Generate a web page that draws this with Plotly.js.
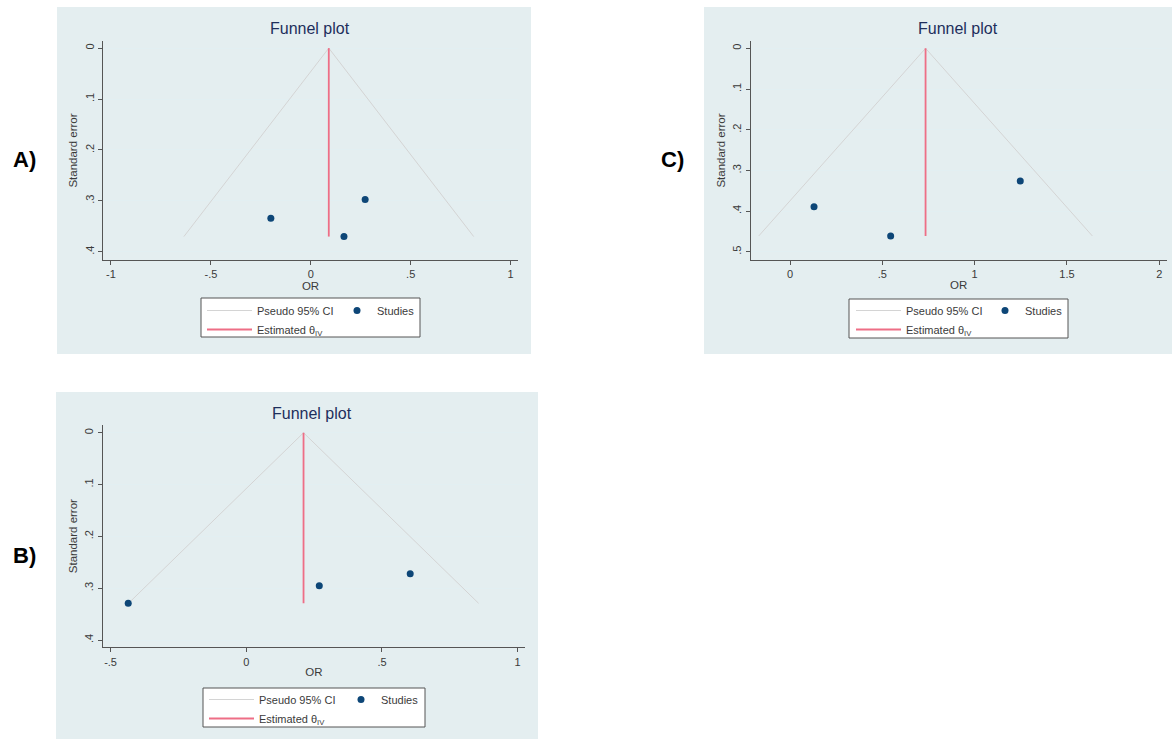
<!DOCTYPE html>
<html>
<head>
<meta charset="utf-8">
<script src="https://cdn.plot.ly/plotly-3.0.1.min.js"></script>
<style>html,body{margin:0;padding:0;background:#fff;}#chart{width:1173px;height:742px;}</style>
</head>
<body>
<div id="chart"></div>
<script>
// ---- Data ----
// Panel A
const orA = [-0.200, 0.272, 0.166];
const seA = [0.334, 0.297, 0.370];
const thetaA = 0.090;
const xTicksA = [-1, -0.5, 0, 0.5, 1];
const xLabelsA = ['-1', '-.5', '0', '.5', '1'];
const yTicksA = [0, 0.1, 0.2, 0.3, 0.4];
const yLabelsA = ['0', '.1', '.2', '.3', '.4'];
// Panel B
const orB = [-0.435, 0.269, 0.604];
const seB = [0.329, 0.295, 0.272];
const thetaB = 0.211;
const xTicksB = [-0.5, 0, 0.5, 1];
const xLabelsB = ['-.5', '0', '.5', '1'];
const yTicksB = [0, 0.1, 0.2, 0.3, 0.4];
const yLabelsB = ['0', '.1', '.2', '.3', '.4'];
// Panel C
const orC = [0.130, 0.545, 1.247];
const seC = [0.389, 0.461, 0.326];
const thetaC = 0.734;
const xTicksC = [0, 0.5, 1, 1.5, 2];
const xLabelsC = ['0', '.5', '1', '1.5', '2'];
const yTicksC = [0, 0.1, 0.2, 0.3, 0.4, 0.5];
const yLabelsC = ['0', '.1', '.2', '.3', '.4', '.5'];

const panelLabels = ['A)', 'B)', 'C)'];
const titleText = 'Funnel plot';
const seriesNames = ['Pseudo 95% CI', 'Studies', 'Estimated θ<sub>IV</sub>'];
const xTitle = 'OR';
const yTitle = 'Standard error';

// ---- Styling ----
const W = 1173, H = 742;
const BG = '#e4eef0';
const GRID = '#e2eff2';
const AX = '#555555';
const CI_COL = '#d4d4d4';
const PT_COL = '#0d4677';
const EST_COL = '#ee6e86';
const TITLE_COL = '#1e2f5c';
const FONT = 'Liberation Sans, Arial, sans-serif';

const px = v => v / W;
const py = v => 1 - v / H;

function panelTraces(or, se, theta, xa, ya, legMain, legPts) {
  const seMax = Math.max(...se);
  const z = 1.96;
  return [
    { type: 'scatter', mode: 'lines', x: [theta - z * seMax, theta, theta + z * seMax], y: [seMax, 0, seMax],
      line: { color: CI_COL, width: 1 }, name: seriesNames[0], xaxis: xa, yaxis: ya, legend: legMain,
      hoverinfo: 'skip' },
    { type: 'scatter', mode: 'markers', x: or, y: se, marker: { color: PT_COL, size: 7 },
      name: seriesNames[1], xaxis: xa, yaxis: ya, legend: legPts },
    { type: 'scatter', mode: 'lines', x: [theta, theta], y: [0, seMax],
      line: { color: EST_COL, width: 1.8 }, name: seriesNames[2], xaxis: xa, yaxis: ya, legend: legMain,
      hoverinfo: 'skip' }
  ];
}

const data = [
  ...panelTraces(orA, seA, thetaA, 'x', 'y', 'legend', 'legend4'),
  ...panelTraces(orB, seB, thetaB, 'x2', 'y2', 'legend2', 'legend5'),
  ...panelTraces(orC, seC, thetaC, 'x3', 'y3', 'legend3', 'legend6')
];

function xAxis(dom, range, tv, tt, anchor) {
  return { domain: dom, range: range, anchor: anchor, tickvals: tv, ticktext: tt,
    showline: true, linecolor: AX, linewidth: 1, ticks: 'outside', ticklen: 4, tickcolor: AX,
    showgrid: false, zeroline: false, tickfont: { size: 11, color: '#3a3a3a', family: FONT },
    title: { text: xTitle, font: { size: 11.5, color: '#3a3a3a', family: FONT }, standoff: 1 } };
}
function yAxis(dom, range, tv, tt, anchor) {
  return { domain: dom, range: range, anchor: anchor, tickvals: tv, ticktext: tt, tickangle: -90,
    showline: true, linecolor: AX, linewidth: 1, ticks: 'outside', ticklen: 4, tickcolor: AX,
    showgrid: true, gridcolor: GRID, gridwidth: 1, zeroline: false,
    tickfont: { size: 11, color: '#3a3a3a', family: FONT },
    title: { text: yTitle, font: { size: 11.5, color: '#3a3a3a', family: FONT }, standoff: 3 } };
}

function legendCfg(xl, ytop, iw) {
  return { x: px(xl), y: py(ytop), xref: 'paper', yref: 'paper', xanchor: 'left', yanchor: 'top',
    orientation: 'v', bgcolor: 'rgba(0,0,0,0)', borderwidth: 0,
    font: { size: 11, color: '#3a3a3a', family: FONT }, itemwidth: iw };
}

// panel boxes in pixels [x0, y0, x1, y1]
const boxA = [57, 7, 531, 354];
const boxB = [56, 392, 538, 739];
const boxC = [704, 7, 1172, 354];
// legend frames in pixels [x0, y0, x1, y1]
const legBoxA = [201, 298, 420, 337];
const legBoxB = [203, 688, 425, 727];
const legBoxC = [849, 299, 1068, 338];

function bgShape(b) {
  return { type: 'rect', xref: 'paper', yref: 'paper', x0: px(b[0]), x1: px(b[2]), y0: py(b[3]), y1: py(b[1]),
    fillcolor: BG, line: { width: 0 }, layer: 'below' };
}
function legFrame(b) {
  return { type: 'rect', xref: 'paper', yref: 'paper', x0: px(b[0]), x1: px(b[2]), y0: py(b[3]), y1: py(b[1]),
    fillcolor: '#ffffff', line: { width: 1, color: '#555555' }, layer: 'below' };
}

function ann(text, xp, yp, size, color, bold) {
  return { text: bold ? '<b>' + text + '</b>' : text, x: px(xp), y: py(yp), xref: 'paper', yref: 'paper',
    showarrow: false, xanchor: 'center', yanchor: 'middle',
    font: { size: size, color: color, family: FONT } };
}

const layout = {
  width: W, height: H, margin: { l: 0, r: 0, t: 0, b: 0 },
  paper_bgcolor: '#ffffff', plot_bgcolor: '#ffffff',
  font: { family: FONT },
  xaxis: xAxis([px(103), px(518)], [-1.04, 1.037], xTicksA, xLabelsA, 'y'),
  yaxis: yAxis([py(260), py(41)], [0.416, -0.014], yTicksA, yLabelsA, 'x'),
  xaxis2: xAxis([px(102.7), px(525)], [-0.529, 1.027], xTicksB, xLabelsB, 'y2'),
  yaxis2: yAxis([py(647.3), py(425)], [0.414, -0.015], yTicksB, yLabelsB, 'x2'),
  xaxis3: xAxis([px(750.7), px(1166.7)], [-0.213, 2.04], xTicksC, xLabelsC, 'y3'),
  yaxis3: yAxis([py(260), py(41)], [0.52, -0.018], yTicksC, yLabelsC, 'x3'),
  legend: legendCfg(202, 296, 45),
  legend2: legendCfg(204, 685, 45),
  legend3: legendCfg(851, 296, 45),
  legend4: legendCfg(337, 296, 30),
  legend5: legendCfg(341, 685, 30),
  legend6: legendCfg(985, 296, 30),
  shapes: [bgShape(boxA), bgShape(boxB), bgShape(boxC), legFrame(legBoxA), legFrame(legBoxB), legFrame(legBoxC)],
  annotations: [
    ann(titleText, 310, 29, 16, TITLE_COL, false),
    ann(titleText, 312, 413, 16, TITLE_COL, false),
    ann(titleText, 958, 29, 16, TITLE_COL, false),
    ann(panelLabels[0], 24, 159, 22, '#000', true),
    ann(panelLabels[1], 24, 555, 22, '#000', true),
    ann(panelLabels[2], 672, 159, 22, '#000', true)
  ],
  showlegend: true
};

Plotly.newPlot('chart', data, layout, { staticPlot: true, displayModeBar: false });
</script>
</body>
</html>
